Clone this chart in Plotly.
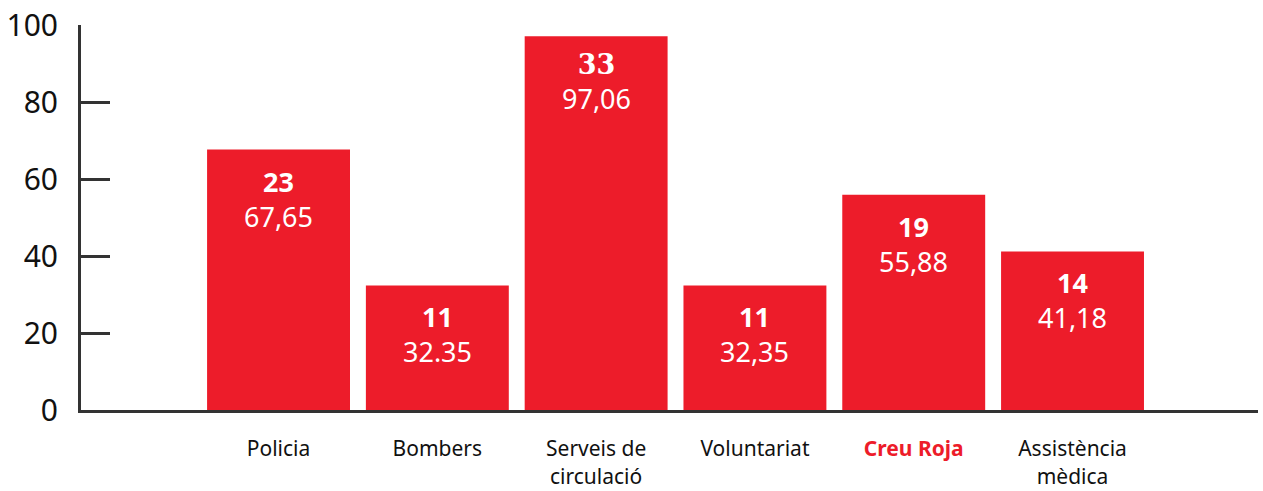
import plotly.graph_objects as go

categories = ["Policia", "Bombers", "Serveis de<br>circulació", "Voluntariat", "Creu Roja", "Assistència<br>mèdica"]
counts = [23, 11, 33, 11, 19, 14]
percents = [67.65, 32.35, 97.06, 32.35, 55.88, 41.18]
pct_labels = ["67,65", "32.35", "97,06", "32,35", "55,88", "41,18"]
highlight = "Creu Roja"
y_ticks = [0, 20, 40, 60, 80, 100]

RED = "#ED1C2A"
AXIS = "#333333"
FONT = "Noto Sans"

xs = list(range(len(categories)))
ticktext = [
    f'<span style="color:{RED}"><b>{c}</b></span>' if c == highlight else c
    for c in categories
]

fig = go.Figure()
fig.add_trace(go.Bar(
    x=xs, y=percents, marker=dict(color=RED, line=dict(width=0)),
    width=0.9, hoverinfo="skip", showlegend=False,
))

for x, c, p, lab in zip(xs, counts, percents, pct_labels):
    if c == 33:
        top = f'<span style="font-family:DejaVu Serif"><b>{c}</b></span>'
    else:
        top = f"<b>{c}</b>"
    fig.add_annotation(
        x=x, y=p, xref="x", yref="y", yanchor="top", yshift=-11,
        text=f"{top}<br>{lab}", showarrow=False,
        font=dict(family=FONT, size=27, color="white"),
    )

fig.update_layout(
    width=1263, height=491,
    margin=dict(l=81, r=5, t=25, b=81, autoexpand=False),
    plot_bgcolor="white", paper_bgcolor="white",
    font=dict(family=FONT, color="#111111"),
    xaxis=dict(
        range=[-1.244, 6.168], tickmode="array", tickvals=xs, ticktext=ticktext,
        showgrid=False, zeroline=False, showline=True, linecolor=AXIS, linewidth=3,
        ticks="", tickfont=dict(size=21, color="#111111"), ticklabelstandoff=18,
        automargin=False, fixedrange=True,
    ),
    yaxis=dict(
        range=[0, 100], tickmode="array", tickvals=y_ticks,
        showgrid=False, zeroline=False, showline=True, linecolor=AXIS, linewidth=3,
        ticks="inside", ticklen=29, tickwidth=3, tickcolor=AXIS,
        tickfont=dict(size=30, color="#111111"), ticklabelstandoff=14,
        automargin=False, fixedrange=True,
    ),
)

fig.write_html(
    "out.html",
    config={"displayModeBar": False},
    post_script="document.body.style.margin='0';document.body.style.overflow='hidden';",
)
